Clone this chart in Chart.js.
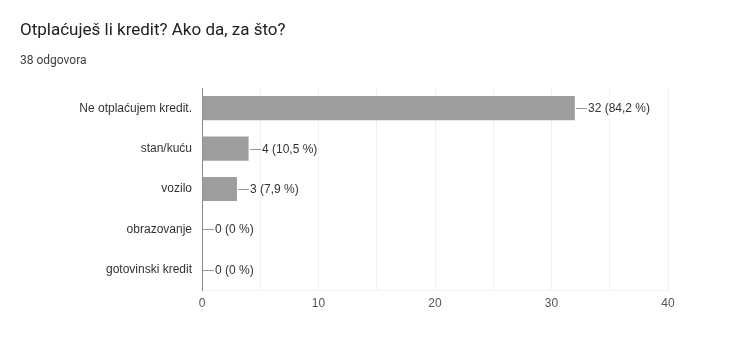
<!DOCTYPE html>
<html>
<head>
<meta charset="utf-8">
<script src="https://cdn.jsdelivr.net/npm/chart.js@4/dist/chart.umd.min.js"></script>
<style>
  html, body { margin: 0; padding: 0; background: #fff; }
  #wrap { position: relative; width: 750px; height: 345px; overflow: hidden; }
  #naslov { position: absolute; left: 20px; top: 19px; font: 17px Roboto, Arial, sans-serif; color: #202124; }
  #broj { position: absolute; left: 20px; top: 53px; font: 12px Roboto, Arial, sans-serif; color: #3c4043; }
  #graf { position: absolute; left: 0; top: 0; }
</style>
</head>
<body>
<div id="wrap">
  <canvas id="graf" width="750" height="345"></canvas>
  <div id="naslov">Otplaćuješ li kredit? Ako da, za što?</div>
  <div id="broj">38 odgovora</div>
</div>
<script>
// podaci
var kategorije = ["Ne otplaćujem kredit.", "stan/kuću", "vozilo", "obrazovanje", "gotovinski kredit"];
var odgovori = [32, 4, 3, 0, 0];
var postoci = ["84,2", "10,5", "7,9", "0", "0"];
var oznakeX = [0, 10, 20, 30, 40];

var font = "Arial, 'Liberation Sans', sans-serif";

// oznake uz stupce: crtica pa "broj (postotak %)"
var oznakeStupaca = {
  id: 'oznakeStupaca',
  afterDatasetsDraw: function(chart) {
    var ctx = chart.ctx;
    var meta = chart.getDatasetMeta(0);
    ctx.save();
    ctx.font = "12px " + font;
    ctx.textBaseline = "middle";
    ctx.fillStyle = "#333";
    ctx.strokeStyle = "#999";
    ctx.lineWidth = 1;
    meta.data.forEach(function(bar, i) {
      var x = Math.round(bar.x) + 1;
      var y = Math.round(bar.y) + 0.5;
      ctx.beginPath();
      ctx.moveTo(x, y);
      ctx.lineTo(x + 11, y);
      ctx.stroke();
      ctx.fillText(odgovori[i] + " (" + postoci[i] + " %)", x + 12, y);
    });
    ctx.restore();
  }
};

new Chart(document.getElementById("graf").getContext("2d"), {
  type: "bar",
  data: {
    labels: kategorije,
    datasets: [{
      data: odgovori,
      backgroundColor: "#9e9e9e",
      borderWidth: 0,
      barPercentage: 0.6,
      categoryPercentage: 1
    }]
  },
  options: {
    indexAxis: "y",
    responsive: false,
    animation: false,
    layout: { padding: { left: 0, right: 82, top: 88, bottom: 0 } },
    plugins: { legend: { display: false }, tooltip: { enabled: false } },
    scales: {
      x: {
        min: 0,
        max: 40,
        ticks: {
          stepSize: 5,
          padding: 6,
          color: "#555",
          font: { family: font, size: 12 },
          maxRotation: 0,
          callback: function(v) { return oznakeX.indexOf(v) >= 0 ? String(v) : ""; }
        },
        grid: {
          drawTicks: false,
          color: function(c) { return c.tick && c.tick.value === 0 ? "#888" : "#f1f1f1"; }
        },
        border: { display: true, color: "#f1f1f1" },
        afterFit: function(s) { s.height = 55; }
      },
      y: {
        ticks: {
          padding: 10,
          color: "#333",
          font: { family: font, size: 12 }
        },
        grid: { display: false, drawTicks: false },
        border: { display: true, color: "#888" },
        afterFit: function(s) { s.width = 202; }
      }
    }
  },
  plugins: [oznakeStupaca]
});
</script>
</body>
</html>
